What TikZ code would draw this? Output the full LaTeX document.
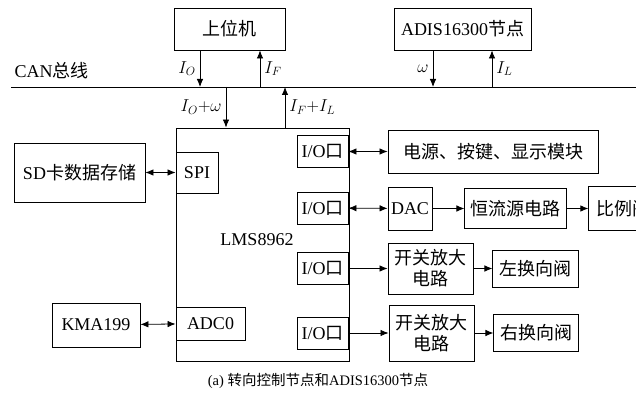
\documentclass[tikz,border=0pt]{standalone}
\usepackage{fontspec}
\setmainfont{Liberation Serif}
\newfontfamily\cjk{Noto Sans CJK SC}
\usetikzlibrary{arrows.meta, positioning}
\newcommand{\zh}[1]{{\cjk #1}}

\begin{document}
\begin{tikzpicture}[
        x=1pt, y=-1pt,
        node distance=20pt,
        font=\fontsize{18}{21}\selectfont,
        blk/.style={rectangle, draw, line width=0.9pt, inner sep=0pt, align=center},
        port/.style={blk, minimum width=51pt, minimum height=32pt},
        lbl/.style={font=\fontsize{18}{20}\selectfont, inner sep=4pt},
        arrow/.style={-{Latex[length=8pt,width=6.5pt]}, line width=0.8pt},
        biarrow/.style={{Latex[length=8pt,width=6.5pt]}-{Latex[length=8pt,width=6.5pt]}, line width=0.8pt}
    ]
        \useasboundingbox (0,0) rectangle (636,398);
        \clip (0,0) rectangle (636,398);

        % CAN bus and the two upper nodes
        \node[blk, minimum width=111pt, minimum height=42pt] (pc) at (229.5,29) {\zh{上位机}};
        \node[blk, minimum width=137pt, minimum height=42pt] (adis) at (462.5,29) {ADIS16300\zh{节点}};
        \coordinate (busL) at (11,87);
        \coordinate (busR) at (636,87);
        \draw[line width=0.9pt] (busL) -- (busR);
        \node[anchor=west] (canlbl) at (11,71) {CAN\zh{总线}};

        % controller
        \node[blk, minimum width=173pt, minimum height=233pt] (mcu) at (262.5,244.5) {};
        \node (mculbl) at (257,240) {LMS8962};
        \node[blk, minimum width=42pt, minimum height=41pt] (spi) at (197,172.5) {SPI};
        \node[blk, minimum width=69pt, minimum height=33pt] (adc) at (210.5,323.5) {ADC0};
        \node[port] (io1) at (322.5,151.5) {I/O\zh{口}};
        \node[port] (io2) at (322.5,208) {I/O\zh{口}};
        \node[port] (io3) at (322.5,268.5) {I/O\zh{口}};
        \node[port] (io4) at (322.5,333) {I/O\zh{口}};

        % peripherals
        \node[blk, minimum width=131pt, minimum height=59pt] (sd) at (79.5,172.5) {SD\zh{卡数据存储}};
        \node[blk, minimum width=88pt, minimum height=44pt] (kma) at (96,325) {KMA199};
        \node[blk, minimum width=210pt, minimum height=43pt] (pwr) at (493,151.5) {\zh{电源、按键、显示模块}};
        \node[blk, minimum width=44pt, minimum height=43pt] (dac) at (410,208.5) {DAC};
        \node[blk, minimum width=102pt, minimum height=40pt, right=32pt of dac] (ccs) {\zh{恒流源电路}};
        \node[blk, minimum width=70pt, minimum height=44pt, right=21pt of ccs] (prop) {\zh{比例阀}};
        \node[blk, minimum width=85pt, minimum height=51pt] (amp1) at (430.5,268.5) {\zh{开关放大}\\\zh{电路}};
        \node[blk, minimum width=86pt, minimum height=37pt, right=19pt of amp1] (lv) {\zh{左换向阀}};
        \node[blk, minimum width=85pt, minimum height=56pt] (amp2) at (431.5,333) {\zh{开关放大}\\\zh{电路}};
        \node[blk, minimum width=85pt, minimum height=37pt, right=19pt of amp2] (rv) {\zh{右换向阀}};

        % bus traffic
        \draw[arrow] ([xshift=-29.5pt]pc.south) coordinate (pcd) -- (pcd |- busL) node[lbl, midway, left] {$I_O$};
        \draw[arrow] ([xshift=30.5pt]pc.south |- busL) coordinate (pcu) -- (pcu |- pc.south) node[lbl, midway, right] {$I_F$};
        \draw[arrow] ([xshift=-29.5pt]adis.south) coordinate (ad) -- (ad |- busL) node[lbl, midway, left] {$\omega$};
        \draw[arrow] ([xshift=29.5pt]adis.south |- busL) coordinate (au) -- (au |- adis.south) node[lbl, midway, right] {$I_L$};
        \draw[arrow] ([xshift=-36.5pt]mcu.north |- busL) coordinate (md) -- (md |- mcu.north) node[lbl, midway, left] {$I_O{+}\omega$};
        \draw[arrow] ([xshift=22.5pt]mcu.north) coordinate (mu) -- (mu |- busL) node[lbl, midway, right] {$I_F{+}I_L$};

        % links
        \draw[biarrow] (sd) -- (spi);
        \draw[biarrow] (kma) -- (adc);
        \draw[biarrow] (io1) -- (pwr);
        \draw[biarrow] (io2) -- (dac);
        \draw[arrow] (dac) -- (ccs);
        \draw[arrow] (ccs) -- (prop);
        \draw[arrow] (io3) -- (amp1);
        \draw[arrow] (amp1) -- (lv);
        \draw[arrow] (io4) -- (amp2);
        \draw[arrow] (amp2) -- (rv);

        \node[font=\fontsize{14.5}{17}\selectfont] (cap) at (318,381) {(a) \zh{转向控制节点和}ADIS16300\zh{节点}};
    \end{tikzpicture}
\end{document}
